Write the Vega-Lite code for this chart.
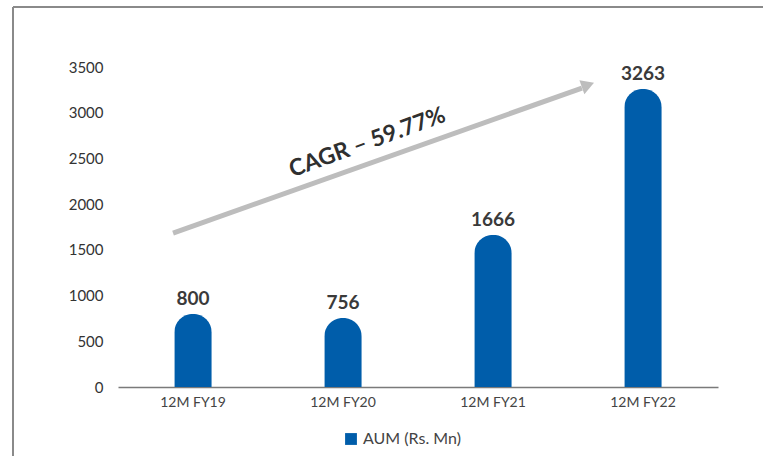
{
  "$schema": "https://vega.github.io/schema/vega-lite/v6.json",
  "width": 600,
  "height": 320,
  "autosize": {"type": "none"},
  "padding": {"left": 118, "top": 67, "right": 45, "bottom": 69},
  "background": "#ffffff",
  "config": {
    "view": {"stroke": null},
    "font": "Lato",
    "axis": {"labelFont": "Lato", "grid": false, "ticks": false}
  },
  "datasets": {
    "aum": [
      {"year": "12M FY19", "aum": 800, "series": "AUM (Rs. Mn)"},
      {"year": "12M FY20", "aum": 756, "series": "AUM (Rs. Mn)"},
      {"year": "12M FY21", "aum": 1666, "series": "AUM (Rs. Mn)"},
      {"year": "12M FY22", "aum": 3263, "series": "AUM (Rs. Mn)"}
    ],
    "arrow": [
      {"x0": 0.367, "y0": 1684, "x1": 3.093, "y1": 3270}
    ],
    "head": [
      {"x": 3.133, "y": 3303}
    ],
    "note": [
      {"x": 1.663, "y": 2674, "label": "CAGR – 59.77%"}
    ],
    "frame": [
      {"x0": -0.7, "y0": 4156, "x1": 4.4, "y1": 4156},
      {"x0": -0.7, "y0": 4156, "x1": -0.7, "y1": -800}
    ]
  },
  "layer": [
    {
      "data": {"name": "aum"},
      "layer": [
        {
          "mark": {
            "type": "bar",
            "width": {"band": 0.25},
            "cornerRadiusTopLeft": 19,
            "cornerRadiusTopRight": 19
          },
          "encoding": {
            "x": {
              "field": "year",
              "type": "nominal",
              "sort": null,
              "scale": {"paddingInner": 0, "paddingOuter": 0},
              "axis": {
                "title": null,
                "labelAngle": 0,
                "labelFontSize": 14,
                "labelColor": "#444444",
                "labelPadding": 8,
                "domainColor": "#7a7a7a",
                "domainWidth": 1.5
              }
            },
            "y": {
              "field": "aum",
              "type": "quantitative",
              "scale": {"domain": [0, 3500], "nice": false},
              "axis": {
                "title": null,
                "format": "d",
                "values": [0, 500, 1000, 1500, 2000, 2500, 3000, 3500],
                "domain": false,
                "labelFontSize": 15,
                "labelColor": "#333333",
                "labelPadding": 15
              }
            },
            "color": {
              "field": "series",
              "type": "nominal",
              "scale": {"range": ["#005DAA"]},
              "legend": {
                "title": null,
                "orient": "none",
                "legendX": 225,
                "legendY": 364,
                "symbolType": "square",
                "symbolSize": 140,
                "labelFont": "Lato",
                "labelFontSize": 16,
                "labelColor": "#444444"
              }
            }
          }
        },
        {
          "mark": {
            "type": "text",
            "baseline": "bottom",
            "dy": -5,
            "fontSize": 19,
            "fontWeight": "bold",
            "color": "#3a3a3a"
          },
          "encoding": {
            "x": {"field": "year", "type": "nominal", "sort": null},
            "y": {"field": "aum", "type": "quantitative"},
            "text": {"field": "aum", "type": "quantitative", "format": "d"}
          }
        }
      ]
    },
    {
      "layer": [
        {
          "data": {"name": "frame"},
          "mark": {"type": "rule", "color": "#8a8a8a", "strokeWidth": 2, "clip": false},
          "encoding": {
            "x": {"field": "x0", "type": "quantitative", "scale": {"domain": [0, 4], "nice": false, "zero": false}, "axis": null},
            "x2": {"field": "x1"},
            "y": {"field": "y0", "type": "quantitative"},
            "y2": {"field": "y1"}
          }
        },
        {
          "data": {"name": "arrow"},
          "mark": {"type": "rule", "color": "#BDBDBD", "strokeWidth": 5},
          "encoding": {
            "x": {"field": "x0", "type": "quantitative", "scale": {"domain": [0, 4], "nice": false, "zero": false}, "axis": null},
            "x2": {"field": "x1"},
            "y": {"field": "y0", "type": "quantitative"},
            "y2": {"field": "y1"}
          }
        },
        {
          "data": {"name": "head"},
          "mark": {"type": "point", "shape": "triangle-right", "filled": true, "color": "#BDBDBD", "opacity": 1, "size": 220, "angle": 340.5},
          "encoding": {
            "x": {"field": "x", "type": "quantitative"},
            "y": {"field": "y", "type": "quantitative"}
          }
        },
        {
          "data": {"name": "note"},
          "mark": {"type": "text", "angle": 340, "fontSize": 23, "fontWeight": "bold", "color": "#2f2f2f", "align": "center", "baseline": "middle"},
          "encoding": {
            "x": {"field": "x", "type": "quantitative"},
            "y": {"field": "y", "type": "quantitative"},
            "text": {"field": "label"}
          }
        }
      ]
    }
  ],
  "resolve": {"scale": {"x": "independent"}}
}
